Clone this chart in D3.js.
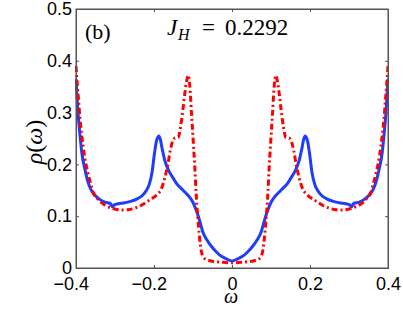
<!DOCTYPE html>
<html><head><meta charset="utf-8">
<script src="https://cdn.jsdelivr.net/npm/d3@7"></script>
<style>body{margin:0;background:#fff;} svg{display:block;}</style>
</head><body>
<svg id="c" width="403" height="330"></svg>
<script>
const xTicks = [-0.4, -0.2, 0, 0.2, 0.4];
const yTicks = [0, 0.1, 0.2, 0.3, 0.4, 0.5];
const titleText = "(b)";
const jhValue = "0.2292";

const blueOmega = [-0.400,-0.397,-0.394,-0.390,-0.385,-0.377,-0.370,-0.362,-0.352,-0.340,-0.326,-0.313,-0.306,-0.302,-0.292,-0.275,-0.258,-0.242,-0.230,-0.220,-0.212,-0.205,-0.199,-0.194,-0.188,-0.184,-0.179,-0.172,-0.163,-0.152,-0.142,-0.128,-0.116,-0.106,-0.099,-0.092,-0.086,-0.080,-0.074,-0.065,-0.052,-0.040,-0.026,-0.013,0.000,
  0.013,0.026,0.040,0.052,0.065,0.074,0.080,0.086,0.092,0.099,0.106,0.116,0.128,0.142,0.152,0.163,0.172,0.179,0.184,0.188,0.194,0.199,0.205,0.212,0.220,0.230,0.242,0.258,0.275,0.292,0.302,0.306,0.313,0.326,0.340,0.352,0.362,0.370,0.377,0.385,0.390,0.394,0.397,0.400];
const blueRho = [0.365,0.325,0.292,0.258,0.222,0.190,0.168,0.152,0.141,0.133,0.127,0.125,0.118,0.122,0.124,0.126,0.129,0.134,0.140,0.149,0.162,0.185,0.220,0.244,0.255,0.249,0.230,0.207,0.189,0.175,0.163,0.152,0.143,0.134,0.125,0.112,0.099,0.083,0.068,0.055,0.041,0.031,0.022,0.017,0.0135,
  0.017,0.022,0.031,0.041,0.055,0.068,0.083,0.099,0.112,0.125,0.134,0.143,0.152,0.163,0.175,0.189,0.207,0.230,0.249,0.255,0.244,0.220,0.185,0.162,0.149,0.140,0.134,0.129,0.126,0.124,0.122,0.118,0.125,0.127,0.133,0.141,0.152,0.168,0.190,0.222,0.258,0.292,0.325,0.365];

const redOmega = [-0.400,-0.397,-0.393,-0.390,-0.385,-0.378,-0.370,-0.362,-0.356,-0.345,-0.338,-0.325,-0.310,-0.295,-0.279,-0.262,-0.244,-0.228,-0.210,-0.193,-0.180,-0.172,-0.165,-0.158,-0.152,-0.146,-0.138,-0.132,-0.126,-0.121,-0.116,-0.112,-0.108,-0.104,-0.099,-0.095,-0.092,-0.088,-0.084,-0.078,-0.070,-0.056,-0.040,-0.022,0.000,
  0.022,0.040,0.056,0.070,0.078,0.084,0.088,0.092,0.095,0.099,0.104,0.108,0.112,0.116,0.121,0.126,0.132,0.138,0.146,0.152,0.158,0.165,0.172,0.180,0.193,0.210,0.228,0.244,0.262,0.279,0.295,0.310,0.325,0.338,0.345,0.356,0.362,0.370,0.378,0.385,0.390,0.393,0.397,0.400];
const redRho = [0.390,0.357,0.320,0.290,0.255,0.215,0.185,0.162,0.146,0.134,0.128,0.121,0.116,0.113,0.112,0.113,0.117,0.123,0.132,0.141,0.155,0.175,0.198,0.228,0.245,0.251,0.252,0.272,0.305,0.337,0.362,0.372,0.350,0.300,0.240,0.190,0.144,0.100,0.065,0.030,0.018,0.014,0.012,0.011,0.010,
  0.011,0.012,0.014,0.018,0.030,0.065,0.100,0.144,0.190,0.240,0.300,0.350,0.372,0.362,0.337,0.305,0.272,0.252,0.251,0.245,0.228,0.198,0.175,0.155,0.141,0.132,0.123,0.117,0.113,0.112,0.113,0.116,0.121,0.128,0.134,0.146,0.162,0.185,0.215,0.255,0.290,0.320,0.357,0.390];

const svg = d3.select("#c");
const L = 76, T = 9, W = 312, H = 259;
const x = d3.scaleLinear().domain([-0.4, 0.4]).range([L, L + W]);
const y = d3.scaleLinear().domain([0, 0.5]).range([T + H, T]);
const sans = "Liberation Sans, Arial, sans-serif";
const serif = "Liberation Serif, Times New Roman, serif";

svg.append("clipPath").attr("id","clip").append("rect")
  .attr("x", L - 1).attr("y", T).attr("width", W + 2).attr("height", H);

const line = d3.line().x(d => x(d[0])).y(d => y(d[1])).curve(d3.curveMonotoneX);
const blueData = blueOmega.map((w, i) => [w, blueRho[i]]);
const redData = redOmega.map((w, i) => [w, redRho[i]]);

const g = svg.append("g").attr("clip-path", "url(#clip)");
g.append("path").datum(blueData).attr("d", line)
  .attr("fill", "none").attr("stroke", "#1f3dff").attr("stroke-width", 3)
  .attr("stroke-linejoin", "round");
g.append("path").datum(redData).attr("d", line)
  .attr("fill", "none").attr("stroke", "#ff0000").attr("stroke-width", 3)
  .attr("stroke-dasharray", "6,3,2,3");

// axes (ticks inward)
const axisColor = "#555";
const fmt = d => d === 0 ? "0" : (d < 0 ? "\u2212" : "") + Math.abs(d).toFixed(1);
const xb = svg.append("g").attr("transform", `translate(0,${T + H})`)
  .call(d3.axisBottom(x).tickValues(xTicks).tickSize(-3).tickPadding(9).tickFormat(fmt));
const xt = svg.append("g").attr("transform", `translate(0,${T})`)
  .call(d3.axisTop(x).tickValues(xTicks).tickSize(-3).tickFormat(""));
const yl = svg.append("g").attr("transform", `translate(${L},0)`)
  .call(d3.axisLeft(y).tickValues(yTicks).tickSize(-3).tickPadding(4).tickFormat(d => d === 0 ? "0" : d.toFixed(1)));
const yr = svg.append("g").attr("transform", `translate(${L + W},0)`)
  .call(d3.axisRight(y).tickValues(yTicks).tickSize(-3).tickFormat(""));
[xb, xt, yl, yr].forEach(a => {
  a.select(".domain").attr("stroke", axisColor);
  a.selectAll(".tick line").attr("stroke", axisColor);
  a.selectAll("text").attr("font-family", sans).attr("font-size", 18).attr("fill", "#000");
});
// centre the number part on the tick, minus hangs left
xb.selectAll(".tick text").each(function(d) {
  if (d === 0) return;
  const t = d3.select(this);
  const tmp = svg.append("text").attr("font-family", sans).attr("font-size", 18).text(Math.abs(d).toFixed(1));
  const w = tmp.node().getComputedTextLength();
  tmp.remove();
  t.attr("text-anchor", "end").attr("x", w / 2);
});

svg.append("rect").attr("x", L).attr("y", T).attr("width", W).attr("height", H)
  .attr("fill", "none").attr("stroke", axisColor).attr("stroke-width", 1);

// labels
svg.append("text").attr("x", 231).attr("y", 303).attr("text-anchor", "middle")
  .attr("font-family", serif).attr("font-style", "italic")
  .attr("font-size", 20).text("\u03C9");
svg.append("text").attr("transform", "translate(42,142) rotate(-90)").attr("text-anchor", "middle")
  .attr("font-family", serif).attr("font-size", 24)
  .html('<tspan font-style="italic">\u03C1</tspan>(<tspan font-style="italic">\u03C9</tspan>)');

svg.append("text").attr("x", 85).attr("y", 39)
  .attr("font-family", serif).attr("font-size", 22).text(titleText);
svg.append("text").attr("x", 167).attr("y", 35)
  .attr("font-family", serif).attr("font-style", "italic").attr("font-size", 23).text("J");
svg.append("text").attr("x", 178).attr("y", 40)
  .attr("font-family", serif).attr("font-style", "italic").attr("font-size", 16).text("H");
svg.append("text").attr("x", 202).attr("y", 35)
  .attr("font-family", serif).attr("font-size", 23).attr("textLength", 15).text("=");
svg.append("text").attr("x", 225).attr("y", 35)
  .attr("font-family", serif).attr("font-size", 23).text(jhValue);
</script>
</body></html>
